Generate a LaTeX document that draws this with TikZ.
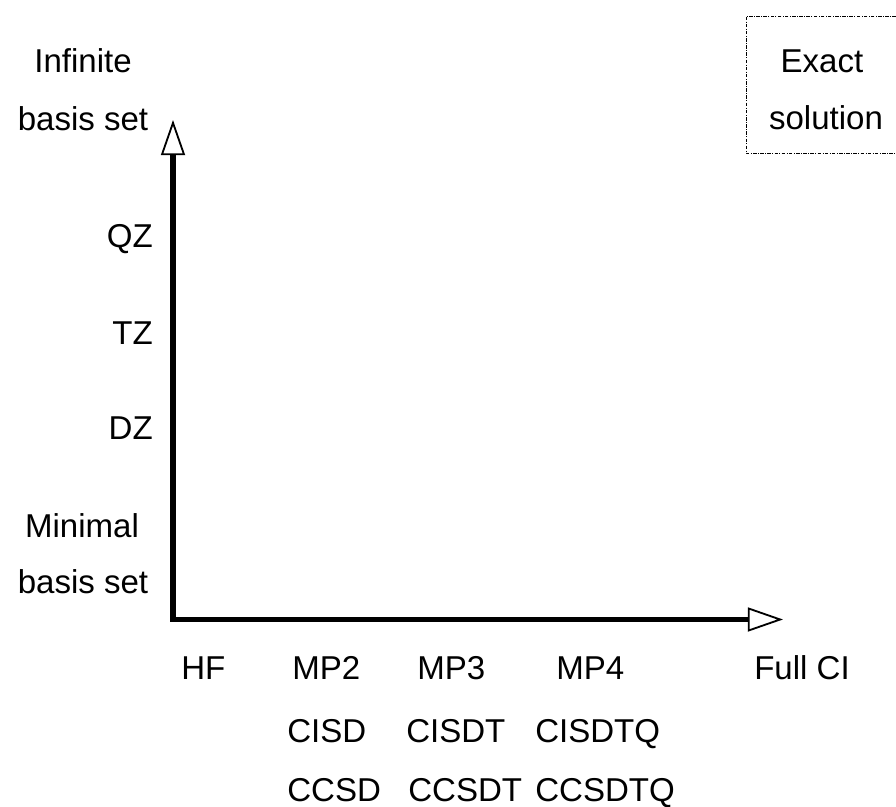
\documentclass[tikz,border=0pt]{standalone}
\usepackage{fontspec}
\setmainfont{Liberation Sans}
\usetikzlibrary{arrows.meta}

\begin{document}
\begin{tikzpicture}[x=0.025cm,y=-0.025cm,
    lbl/.style={inner sep=0pt,anchor=base,font=\fontsize{23.5}{28}\selectfont},
    opentip/.tip={Triangle[open,length=0.88cm,width=0.6cm,line width=1.3pt]},
    axis/.style={line width=3.6pt,line join=miter,opentip-opentip},
    dotbox/.style={thin,dash pattern=on 2.5pt off 1pt on 0.6pt off 1pt}]
      \useasboundingbox (0,0) rectangle (896,807) ;
      % axes
      \coordinate (O) at (173,619.5) ;
      \coordinate (ytip) at (173,120) ;
      \coordinate (xtip) at (783,619.5) ;
      \draw[axis] (ytip) -- (O) -- (xtip) ;
      % basis set labels
      \node[lbl] (inf1) at (83,73) {Infinite} ;
      \node[lbl] (inf2) at (83,131) {basis set} ;
      \node[lbl,anchor=base east] (qz) at (153,248) {QZ} ;
      \node[lbl,anchor=base east] (tz) at (153,345) {TZ} ;
      \node[lbl,anchor=base east] (dz) at (153,440) {DZ} ;
      \node[lbl] (min1) at (82,537) {Minimal} ;
      \node[lbl] (min2) at (83,593) {basis set} ;
      % method labels
      \node[lbl,anchor=base west] (hf) at (181,679) {HF} ;
      \node[lbl,anchor=base west] (mp2) at (292,679) {MP2} ;
      \node[lbl,anchor=base west] (mp3) at (417,679) {MP3} ;
      \node[lbl,anchor=base west] (mp4) at (556,679) {MP4} ;
      \node[lbl,anchor=base west] (fci) at (754,679) {Full CI} ;
      \node[lbl,anchor=base west] (cisd) at (287,742) {CISD} ;
      \node[lbl,anchor=base west] (cisdt) at (406,742) {CISDT} ;
      \node[lbl,anchor=base west] (cisdtq) at (535,742) {CISDTQ} ;
      \node[lbl,anchor=base west] (ccsd) at (287,801) {CCSD} ;
      \node[lbl,anchor=base west] (ccsdt) at (408,801) {CCSDT} ;
      \node[lbl,anchor=base west] (ccsdtq) at (535,801) {CCSDTQ} ;
      % exact solution corner
      \draw[dotbox] (896,16) -- (746,16) -- (746,153) -- (896,153) ;
      \node[lbl] (ex1) at (822,73) {Exact} ;
      \node[lbl] (ex2) at (826,130) {solution} ;
    \end{tikzpicture}
\end{document}
